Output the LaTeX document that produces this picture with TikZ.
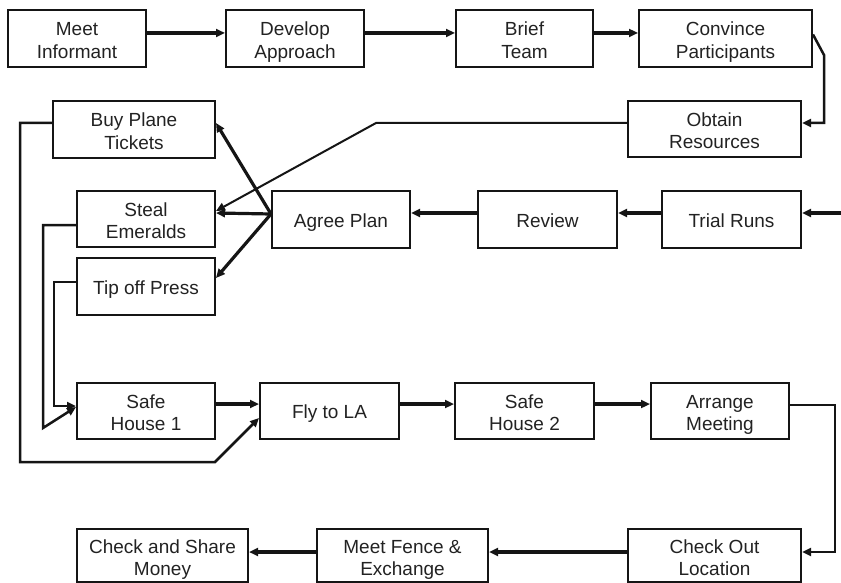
\documentclass[tikz,border=0pt]{standalone}
\usepackage{fontspec}
\setmainfont{Liberation Sans}
\usetikzlibrary{arrows.meta}
\definecolor{ink}{HTML}{151515}
\definecolor{txt}{HTML}{222222}
% two stacked lines, baseline on the first one
\newcommand\twolines[2]{\begin{tabular}[t]{@{}c@{}}#1\\#2\end{tabular}}
\begin{document}
\begin{tikzpicture}[x=1pt,y=-1pt,
  box/.style={draw=ink, line width=2pt, rectangle, inner sep=0pt,
    text=txt, font=\fontsize{19}{22.3}\selectfont},
  one/.style={box, text height=15pt, text depth=0pt},
  two/.style={box, text height=15pt, text depth=20pt},
  flow/.style={draw=ink, line width=3.2pt, -{Triangle[length=9pt,width=8pt]}},
  link/.style={draw=ink, line width=2.5pt, -{Triangle[length=9pt,width=8pt]}},
  thin link/.style={draw=ink, line width=2pt, -{Triangle[length=9pt,width=8pt]}},
]
\useasboundingbox (0,0) rectangle (841,583);

% planning row
\node[two, minimum width=138pt, minimum height=57pt] (mi)  at (77,38.5)    {\twolines{Meet}{Informant}};
\node[two, minimum width=138pt, minimum height=57pt] (da)  at (295,38.5)   {\twolines{Develop}{Approach}};
\node[two, minimum width=137pt, minimum height=57pt] (bt)  at (524.5,38.5) {\twolines{Brief}{Team}};
\node[two, minimum width=173pt, minimum height=57pt] (cp)  at (725.5,38.5) {\twolines{Convince}{Participants}};
\node[two, minimum width=173pt, minimum height=56pt] (ob)  at (714.5,129)  {\twolines{Obtain}{Resources}};

% preparation
\node[two, minimum width=162pt, minimum height=57pt] (bpt) at (134,129.5)  {\twolines{Buy Plane}{Tickets}};
\node[two, minimum width=138pt, minimum height=56pt] (se)  at (146,219)    {\twolines{Steal}{Emeralds}};
\node[one, minimum width=138pt, minimum height=57pt] (ap)  at (341,219.5)  {Agree Plan};
\node[one, minimum width=139pt, minimum height=57pt] (rv)  at (547.5,219.5){Review};
\node[one, minimum width=139pt, minimum height=57pt] (tr)  at (731.5,219.5){Trial Runs};
\node[one, minimum width=138pt, minimum height=57pt] (tp)  at (146,286.5)  {Tip off Press};

% getaway
\node[two, minimum width=138pt, minimum height=56pt] (sh1) at (146,411)    {\twolines{Safe}{House 1}};
\node[one, minimum width=139pt, minimum height=56pt] (fly) at (329.5,411)  {Fly to LA};
\node[two, minimum width=139pt, minimum height=56pt] (sh2) at (524.5,411)  {\twolines{Safe}{House 2}};
\node[two, minimum width=138pt, minimum height=56pt] (am)  at (720,411)    {\twolines{Arrange}{Meeting}};

% sale
\node[two, minimum width=173pt, minimum height=53pt] (co)  at (714.5,555.5){\twolines{Check Out}{Location}};
\node[two, minimum width=171pt, minimum height=53pt] (mf)  at (402.5,555.5){\twolines{Meet Fence \&}{Exchange}};
\node[two, minimum width=171pt, minimum height=53pt] (cs)  at (162.5,555.5){\twolines{Check and Share}{Money}};

% bend points
\coordinate (cpk) at (824,55);
\coordinate (cpd) at (824,123);
\coordinate (obk) at (376,123);
\coordinate (trin) at (845,213);
\coordinate (bpa) at (20,123);
\coordinate (bpb) at (20,462);
\coordinate (bpc) at (215,462);
\coordinate (sea) at (43,225);
\coordinate (seb) at (43,428);
\coordinate (tpa) at (54,282);
\coordinate (tpb) at (54,406);
\coordinate (ama) at (835,405);
\coordinate (amb) at (835,552);

% planning row
\draw[flow] ([yshift=5.5pt]mi.east) -- ([yshift=5.5pt]da.west);
\draw[flow] ([yshift=5.5pt]da.east) -- ([yshift=5.5pt]bt.west);
\draw[flow] ([yshift=5.5pt]bt.east) -- ([yshift=5.5pt]cp.west);
\draw[link] ([yshift=4pt]cp.east) -- (cpk) -- (cpd) -- ([yshift=6pt]ob.east);
\draw[thin link] ([yshift=6pt]ob.west) -- (obk) -- ([yshift=8pt]se.east);

% rehearsal
\draw[flow] (trin) -- ([yshift=6.5pt]tr.east);
\draw[flow] ([yshift=6.5pt]tr.west) -- ([yshift=6.5pt]rv.east);
\draw[flow] ([yshift=6.5pt]rv.west) -- ([yshift=6.5pt]ap.east);
\draw[flow] ([yshift=5.5pt]ap.west) -- ([yshift=6pt]se.east);
\draw[flow] ([yshift=5.5pt]ap.west) -- ([yshift=6.5pt]bpt.east);
\draw[flow] ([yshift=5.5pt]ap.west) -- ([yshift=8.5pt]tp.east);

% feedback into the getaway
\draw[link] ([yshift=6.5pt]bpt.west) -- (bpa) -- (bpb) -- (bpc) -- ([yshift=-7pt]fly.west);
\draw[link] ([yshift=-6pt]se.west) -- (sea) -- (seb) -- ([yshift=4pt]sh1.west);
\draw[link] ([yshift=4.5pt]tp.west) -- (tpa) -- (tpb) -- ([yshift=5pt]sh1.west);

% getaway row
\draw[flow] ([yshift=7pt]sh1.east) -- ([yshift=7pt]fly.west);
\draw[flow] ([yshift=7pt]fly.east) -- ([yshift=7pt]sh2.west);
\draw[flow] ([yshift=7pt]sh2.east) -- ([yshift=7pt]am.west);
\draw[link] ([yshift=6pt]am.east) -- (ama) -- (amb) -- ([yshift=3.5pt]co.east);

% sale row
\draw[flow] ([yshift=3.5pt]co.west) -- ([yshift=3.5pt]mf.east);
\draw[flow] ([yshift=3.5pt]mf.west) -- ([yshift=3.5pt]cs.east);
\end{tikzpicture}
\end{document}
